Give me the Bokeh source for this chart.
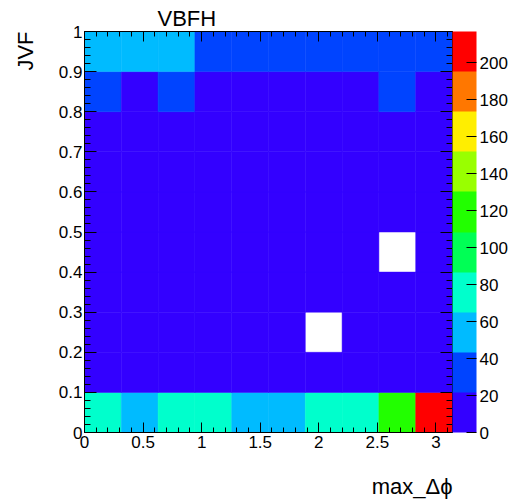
import math
from bokeh.plotting import figure
from bokeh.models import (ColumnDataSource, LinearColorMapper, ColorBar, Range1d, LinearAxis,
                          SingleIntervalTicker, FixedTicker, CustomJSTickFormatter, Title)
from bokeh.embed import file_html
from bokeh.resources import INLINE

# ---- data (10 x 10 bins, rows from JVF=0 upward) ----
x_edges_max = math.pi
n_xbins = 10
n_ybins = 10
row0 = [75, 55, 78, 72, 50, 58, 80, 70, 120, 217]
row1 = [12, 8, 10, 9, 7, 8, 11, 6, 14, 10]
row2 = [9, 6, 8, 7, 5, 6, 0, 8, 10, 7]
row3 = [8, 7, 6, 5, 6, 7, 5, 6, 9, 8]
row4 = [7, 6, 5, 6, 4, 5, 6, 7, 0, 6]
row5 = [8, 5, 6, 5, 6, 4, 5, 6, 7, 5]
row6 = [9, 7, 6, 7, 5, 6, 6, 5, 8, 6]
row7 = [11, 8, 9, 8, 7, 6, 7, 8, 12, 9]
row8 = [30, 14, 28, 16, 12, 13, 15, 12, 26, 10]
row9 = [55, 50, 48, 35, 30, 28, 32, 30, 33, 28]
rows = [row0, row1, row2, row3, row4, row5, row6, row7, row8, row9]
z_max = 217
palette = ["#3300FF", "#0044FF", "#00BBFF", "#00FFCC", "#00FF55",
           "#22FF00", "#99FF00", "#FFEE00", "#FF7700", "#FF0000"]
cbar_ticks = [0, 20, 40, 60, 80, 100, 120, 140, 160, 180, 200]

FONT = "Liberation Sans"
W, H = 518, 504

bw = x_edges_max / n_xbins
bh = 1.0 / n_ybins
xs, ys, vs = [], [], []
for j, row in enumerate(rows):
    for i, v in enumerate(row):
        if v > 0:
            xs.append((i + 0.5) * bw)
            ys.append((j + 0.5) * bh)
            vs.append(v)
src = ColumnDataSource(dict(x=xs, y=ys, v=vs))

mapper = LinearColorMapper(palette=palette, low=0, high=z_max)

p = figure(width=W, height=H, output_backend="svg", toolbar_location=None,
           x_range=Range1d(0, x_edges_max), y_range=Range1d(0, 1),
           min_border_left=84, min_border_right=66, min_border_top=31, min_border_bottom=72,
           x_axis_location="below", y_axis_location="left")
p.rect(x="x", y="y", width=bw, height=bh, source=src,
       fill_color={"field": "v", "transform": mapper},
       line_color={"field": "v", "transform": mapper}, line_width=0.5)

p.grid.visible = False
p.outline_line_color = "black"
p.background_fill_color = "white"
p.border_fill_color = "white"

fmt = CustomJSTickFormatter(code="return String(Number(tick.toFixed(3)));")

def style_axis(ax, interval, major_len, minor_len, labels=True):
    ax.ticker = SingleIntervalTicker(interval=interval, num_minor_ticks=5)
    ax.major_tick_in = major_len
    ax.major_tick_out = 0
    ax.minor_tick_in = minor_len
    ax.minor_tick_out = 0
    ax.axis_line_color = "black"
    ax.major_tick_line_color = "black"
    ax.minor_tick_line_color = "black"
    ax.formatter = fmt
    if labels:
        ax.major_label_text_font = FONT
        ax.major_label_text_font_size = "17px"
        ax.major_label_text_color = "black"
        ax.major_label_standoff = 3
    else:
        ax.major_label_text_font_size = "0px"
        ax.major_label_standoff = 0

style_axis(p.xaxis[0], 0.5, 10, 5)
style_axis(p.yaxis[0], 0.1, 12, 6)
p.yaxis[0].major_label_standoff = 2

top_ax = LinearAxis()
style_axis(top_ax, 0.5, 10, 5, labels=False)
p.add_layout(top_ax, "above")
right_ax = LinearAxis()
style_axis(right_ax, 0.1, 12, 6, labels=False)
right_ax.major_label_standoff = 7
p.add_layout(right_ax, "right")

cb = ColorBar(color_mapper=mapper, ticker=FixedTicker(ticks=cbar_ticks),
              width=24, padding=0, margin=0,
              major_tick_in=10, major_tick_out=0, minor_tick_in=0, minor_tick_out=0,
              major_tick_line_color="black",
              major_label_text_font=FONT, major_label_text_font_size="17px",
              major_label_text_color="black", label_standoff=3,
              bar_line_color=None, border_line_color=None, background_fill_color=None)
p.add_layout(cb, "right")

p.title.text = "VBFH"
p.title.align = "left"
p.title.offset = 73
p.title.standoff = 2
p.title.text_font = FONT
p.title.text_font_size = "22px"
p.title.text_font_style = "normal"
p.title.text_color = "black"

p.add_layout(Title(text="JVF", align="right", standoff=0,
                   padding=dict(left=0, right=0, top=0, bottom=18),
                   text_font=FONT, text_font_size="22px", text_font_style="normal",
                   text_color="black"), "left")
p.add_layout(Title(text="max_Δϕ", align="right", standoff=0,
                   padding=dict(left=0, right=0, top=21, bottom=0),
                   text_font=FONT, text_font_size="22px", text_font_style="normal",
                   text_color="black"), "below")

open("out.html", "w").write(file_html(p, INLINE))
